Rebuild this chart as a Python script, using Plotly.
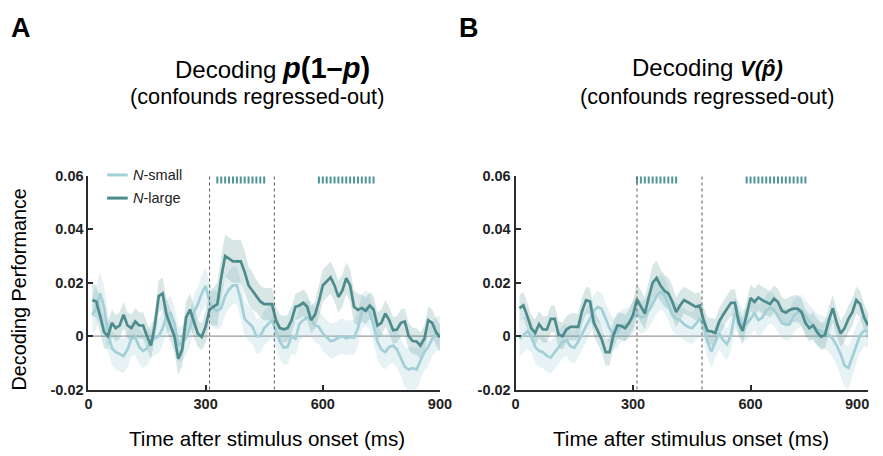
import plotly.graph_objects as go

W, H = 883, 456

# ---------------- data ----------------
time_ms = list(range(10, 901, 10))

a_large = [0.0135, 0.013, 0.0075, 0.0015, 0.000, 0.005, 0.003, 0.004, 0.008, 0.004,
           0.003, 0.0055, 0.004, 0.004, 0.000, -0.0035, 0.004, 0.015, 0.016, 0.008,
           0.004, 0.000, -0.0085, -0.005, 0.007, 0.010, 0.0055, 0.001, -0.0003, 0.0035,
           0.010, 0.011, 0.012, 0.022, 0.030, 0.029, 0.028, 0.028, 0.028, 0.024,
           0.019, 0.017, 0.015, 0.013, 0.012, 0.012, 0.012, 0.006, 0.003, 0.0026,
           0.003, 0.006, 0.011, 0.0115, 0.0125, 0.011, 0.006, 0.008, 0.013, 0.019,
           0.0205, 0.022, 0.019, 0.0147, 0.017, 0.0217, 0.019, 0.011, 0.0098, 0.0105,
           0.0095, 0.0115, 0.010, 0.004, 0.005, 0.0085, 0.006, 0.0022, 0.0025, 0.005,
           0.0055, 0.000, -0.0018, -0.002, -0.0035, -0.001, 0.006, 0.005, 0.0015, -0.0005]

a_small = [0.008, 0.0105, 0.016, 0.011, 0.0015, -0.0045, -0.006, -0.0067, -0.0074, -0.005,
           -0.001, -0.0005, -0.004, -0.0055, -0.0045, -0.0015, -0.0006, 0.0, 0.003, 0.0075,
           0.0086, 0.005, -0.003, -0.0028, -0.0005, 0.003, 0.009, 0.012, 0.016, 0.0188,
           0.013, 0.0103, 0.0095, 0.0105, 0.015, 0.0175, 0.019, 0.019, 0.0135, 0.0065,
           0.005, 0.0035, 0.000, 0.0, 0.003, 0.0045, 0.006, 0.002, -0.002, -0.0043,
           -0.004, 0.0, -0.001, 0.0045, 0.006, 0.007, 0.0065, 0.004, 0.0035, 0.001,
           -0.0005, -0.0018, -0.0015, -0.0005, 0.0, -0.0008, -0.0003, -0.0006, 0.003, 0.009,
           0.0105, 0.009, 0.004, -0.002, -0.005, -0.006, -0.004, -0.0035, -0.005, -0.008,
           -0.0115, -0.0125, -0.012, -0.0125, -0.009, -0.006, -0.004, -0.001, 0.001, 0.001]

b_large = [0.0105, 0.0115, 0.0075, 0.003, 0.0012, 0.0045, 0.0025, 0.0025, 0.0065, 0.0065,
           0.0006, 0.0, 0.0025, 0.0035, 0.0035, 0.0035, 0.0095, 0.0135, 0.013, 0.005,
           0.002, -0.0012, -0.006, -0.006, 0.0005, 0.004, 0.0038, 0.003, 0.005, 0.008,
           0.0138, 0.011, 0.0085, 0.0145, 0.020, 0.0218, 0.019, 0.017, 0.016, 0.013,
           0.009, 0.0115, 0.0135, 0.0127, 0.012, 0.011, 0.0115, 0.006, 0.002, 0.0018,
           0.0012, 0.0055, 0.008, 0.0105, 0.0125, 0.0125, 0.005, 0.002, 0.008, 0.0143,
           0.0128, 0.0145, 0.0135, 0.0128, 0.012, 0.014, 0.0128, 0.0095, 0.0088, 0.0098,
           0.0103, 0.0103, 0.009, 0.005, 0.003, 0.004, 0.0015, -0.0002, 0.0005, 0.006,
           0.0105, 0.005, 0.001, 0.003, 0.0065, 0.009, 0.0135, 0.012, 0.007, 0.004]

b_small = [-0.001, 0.0005, 0.0018, 0.0, -0.004, -0.0055, -0.006, -0.0074, -0.008, -0.006,
           -0.0043, -0.0022, -0.0015, -0.0037, -0.0043, -0.002, 0.001, 0.0035, 0.0065, 0.0095,
           0.011, 0.0102, 0.0065, 0.003, 0.0006, 0.0015, 0.004, 0.0043, 0.005, 0.007,
           0.0085, 0.007, 0.0075, 0.0095, 0.012, 0.015, 0.0165, 0.0155, 0.012, 0.008,
           0.0065, 0.006, 0.0045, 0.0035, 0.003, 0.0045, 0.0065, 0.004, -0.002, -0.0058,
           -0.002, 0.001, -0.0015, -0.003, 0.0005, 0.0085, 0.007, 0.004, 0.0045, 0.0065,
           0.0085, 0.006, 0.007, 0.0095, 0.0108, 0.0098, 0.0075, 0.005, 0.0043, 0.0045,
           0.0075, 0.009, 0.0095, 0.0075, 0.0055, 0.004, 0.0025, 0.0018, 0.0012, 0.0005,
           -0.001, -0.0035, -0.0067, -0.011, -0.0118, -0.0075, -0.003, 0.0005, 0.002, 0.002]

a_large_sem = [0.006, 0.006, 0.006, 0.006, 0.005, 0.005, 0.005, 0.005, 0.005, 0.005,
               0.005, 0.005, 0.005, 0.005, 0.005, 0.005, 0.005, 0.006, 0.006, 0.006,
               0.006, 0.006, 0.006, 0.006, 0.006, 0.006, 0.006, 0.005, 0.005, 0.006,
               0.006, 0.007, 0.008, 0.008, 0.008, 0.008, 0.008, 0.008, 0.008, 0.008,
               0.007, 0.007, 0.006, 0.006, 0.006, 0.006, 0.006, 0.005, 0.005, 0.005,
               0.005, 0.005, 0.005, 0.005, 0.005, 0.005, 0.005, 0.005, 0.006, 0.006,
               0.006, 0.006, 0.006, 0.006, 0.006, 0.006, 0.006, 0.006, 0.006, 0.005,
               0.005, 0.005, 0.005, 0.005, 0.005, 0.005, 0.005, 0.005, 0.005, 0.005,
               0.005, 0.005, 0.005, 0.005, 0.005, 0.005, 0.005, 0.005, 0.005, 0.005]

a_small_sem = [0.007, 0.008, 0.008, 0.008, 0.007, 0.0065, 0.0065, 0.0065, 0.0065, 0.0065,
               0.0065, 0.0065, 0.0065, 0.0065, 0.0065, 0.0065, 0.0065, 0.0065, 0.0065, 0.0065,
               0.0065, 0.0065, 0.0065, 0.0065, 0.0065, 0.0065, 0.0065, 0.0065, 0.007, 0.007,
               0.007, 0.007, 0.007, 0.007, 0.007, 0.007, 0.007, 0.007, 0.007, 0.0065,
               0.0065, 0.0065, 0.0065, 0.0065, 0.0065, 0.0065, 0.0065, 0.0065, 0.0065, 0.0065,
               0.0065, 0.0065, 0.0065, 0.0065, 0.0065, 0.0065, 0.0065, 0.0065, 0.0065, 0.0065,
               0.0065, 0.0065, 0.0065, 0.0065, 0.0065, 0.0065, 0.0065, 0.0065, 0.0065, 0.0065,
               0.0065, 0.0065, 0.0065, 0.0065, 0.0065, 0.0065, 0.0065, 0.0065, 0.007, 0.007,
               0.0075, 0.008, 0.008, 0.008, 0.0075, 0.007, 0.007, 0.0065, 0.0065, 0.0065]

b_large_sem = [0.005, 0.005, 0.005, 0.005, 0.005, 0.005, 0.005, 0.005, 0.005, 0.005,
               0.005, 0.005, 0.005, 0.005, 0.005, 0.005, 0.005, 0.005, 0.005, 0.005,
               0.005, 0.005, 0.005, 0.005, 0.005, 0.005, 0.005, 0.005, 0.005, 0.0055,
               0.006, 0.006, 0.006, 0.006, 0.0065, 0.0065, 0.006, 0.006, 0.006, 0.006,
               0.0055, 0.0055, 0.005, 0.005, 0.005, 0.005, 0.005, 0.005, 0.005, 0.005,
               0.005, 0.005, 0.005, 0.005, 0.005, 0.005, 0.005, 0.005, 0.005, 0.005,
               0.005, 0.005, 0.005, 0.005, 0.005, 0.005, 0.005, 0.005, 0.005, 0.005,
               0.005, 0.005, 0.005, 0.005, 0.005, 0.005, 0.005, 0.005, 0.005, 0.005,
               0.005, 0.005, 0.005, 0.005, 0.005, 0.005, 0.005, 0.005, 0.005, 0.005]

b_small_sem = [0.0065, 0.0065, 0.0065, 0.006, 0.006, 0.006, 0.006, 0.006, 0.006, 0.006,
               0.006, 0.006, 0.006, 0.006, 0.006, 0.006, 0.006, 0.006, 0.006, 0.006,
               0.006, 0.006, 0.006, 0.006, 0.006, 0.006, 0.006, 0.006, 0.006, 0.006,
               0.006, 0.006, 0.006, 0.0065, 0.0065, 0.0065, 0.0065, 0.0065, 0.006, 0.006,
               0.006, 0.006, 0.006, 0.006, 0.006, 0.006, 0.006, 0.006, 0.006, 0.006,
               0.006, 0.006, 0.006, 0.006, 0.006, 0.006, 0.006, 0.006, 0.006, 0.006,
               0.006, 0.006, 0.006, 0.006, 0.006, 0.006, 0.006, 0.006, 0.006, 0.006,
               0.006, 0.006, 0.006, 0.006, 0.006, 0.006, 0.006, 0.006, 0.006, 0.0065,
               0.007, 0.0075, 0.008, 0.008, 0.008, 0.0075, 0.007, 0.0065, 0.006, 0.006]

sig_a = [330, 340, 350, 360, 370, 380, 390, 400, 410, 420, 430, 440, 450,
         590, 600, 610, 620, 630, 640, 650, 660, 670, 680, 690, 700, 710, 720, 730]
sig_b = [310, 320, 330, 340, 350, 360, 370, 380, 390, 400, 410,
         590, 600, 610, 620, 630, 640, 650, 660, 670, 680, 690, 700, 710, 720, 730, 740]
sig_level = 0.0585

event_ms = [310, 476]

x_ticks = [0, 300, 600, 900]
x_tick_text = ["0", "300", "600", "900"]
y_ticks = [-0.02, 0, 0.02, 0.04, 0.06]
y_tick_text = ["-0.02", "0", "0.02", "0.04", "0.06"]
legend_labels = ["<i>N</i>-small", "<i>N</i>-large"]

# ---------------- style ----------------
DARK = "#4d8b8d"
LIGHT = "#a2cfd8"
DARK_BAND = "rgba(77,139,141,0.22)"
LIGHT_BAND = "rgba(162,207,216,0.27)"
SIG = "#4f9598"
AXIS = "#2b2b2b"
FONT = "Liberation Sans, Arial, Helvetica, sans-serif"
TICK_FONT = dict(family=FONT, size=14.5, color="#222")


def px(x):  # figure pixel x -> paper fraction
    return x / W


def py(y):  # figure pixel y -> paper fraction
    return 1 - y / H


fig = go.Figure()


def add_panel(xa, ya, large, small, large_sem, small_sem, sig):
    xr = time_ms + time_ms[::-1]
    for vals, sem, band in ((small, small_sem, LIGHT_BAND), (large, large_sem, DARK_BAND)):
        up = [v + s for v, s in zip(vals, sem)]
        lo = [v - s for v, s in zip(vals, sem)]
        fig.add_trace(go.Scatter(x=xr, y=up + lo[::-1], fill="toself", fillcolor=band,
                                 line=dict(width=0), mode="lines", hoverinfo="skip",
                                 showlegend=False, xaxis=xa, yaxis=ya))
    fig.add_trace(go.Scatter(x=time_ms, y=small, mode="lines", name=legend_labels[0],
                             line=dict(color=LIGHT, width=2.7), showlegend=False,
                             xaxis=xa, yaxis=ya))
    fig.add_trace(go.Scatter(x=time_ms, y=large, mode="lines", name=legend_labels[1],
                             line=dict(color=DARK, width=2.7), showlegend=False,
                             xaxis=xa, yaxis=ya))
    fig.add_trace(go.Scatter(x=sig, y=[sig_level] * len(sig), mode="markers",
                             marker=dict(symbol="line-ns", size=5,
                                         line=dict(color=SIG, width=2)),
                             showlegend=False, hoverinfo="skip", xaxis=xa, yaxis=ya))


add_panel("x", "y", a_large, a_small, a_large_sem, a_small_sem, sig_a)
add_panel("x2", "y2", b_large, b_small, b_large_sem, b_small_sem, sig_b)

shapes = []
for xr_, yr_ in (("x", "y"), ("x2", "y2")):
    shapes.append(dict(type="line", xref=xr_, yref=yr_, x0=0, x1=900, y0=0, y1=0,
                       line=dict(color="#9a9a9a", width=1.2), layer="below"))
    for e in event_ms:
        shapes.append(dict(type="line", xref=xr_, yref=yr_, x0=e, x1=e, y0=-0.02, y1=0.06,
                           line=dict(color="#666666", width=1.1, dash="dot")))

# manual legend (short line samples as in the reference)
ann = []
for i, (lab, col) in enumerate(zip(legend_labels, (LIGHT, DARK))):
    yy = py(173 + 24 * i)
    shapes.append(dict(type="line", xref="paper", yref="paper", x0=px(105), x1=px(126),
                       y0=yy, y1=yy, line=dict(color=col, width=3)))
    ann.append(dict(text=lab, x=px(129), y=yy, xref="paper", yref="paper",
                    xanchor="left", yanchor="middle", showarrow=False,
                    font=dict(family=FONT, size=14.5, color="#222")))

axis_common = dict(showline=True, linecolor=AXIS, linewidth=2, ticks="inside",
                   ticklen=5, tickwidth=1.5, tickcolor=AXIS, showgrid=False, zeroline=False,
                   tickfont=TICK_FONT)

xt = ["<b>%s</b>" % t for t in x_tick_text]
# the last tick label of panel B sits at the page edge; it is drawn as a
# right-aligned annotation so that it is not cut off
xt_b = xt[:-1] + [""]
yt = ["<b>%s</b>" % t for t in y_tick_text]
ydom = [py(395.5), py(174)]
fig.update_layout(
    width=W, height=H, margin=dict(l=0, r=0, t=0, b=0),
    plot_bgcolor="white", paper_bgcolor="white",
    shapes=shapes, showlegend=False,
    xaxis=dict(domain=[px(86), px(444)], range=[0, 900], tickvals=x_ticks, ticktext=xt,
               anchor="y", **axis_common),
    yaxis=dict(domain=ydom, range=[-0.02, 0.06], tickvals=y_ticks,
               ticktext=yt, anchor="x", **axis_common),
    xaxis2=dict(domain=[px(521), px(880)], range=[0, 900], tickvals=x_ticks, ticktext=xt_b,
                anchor="y2", **axis_common),
    yaxis2=dict(domain=ydom, range=[-0.02, 0.06], tickvals=y_ticks,
                ticktext=yt, anchor="x2", **axis_common),
    font=dict(family=FONT),
)

ann.append(dict(text=xt[-1], x=1, y=py(410), xref="paper", yref="paper",
                xanchor="right", yanchor="middle", showarrow=False, font=TICK_FONT))
ann.append(dict(text="<b>A</b>", x=px(5), y=py(21), xref="paper", yref="paper",
                xanchor="left", yanchor="middle", showarrow=False,
                font=dict(family=FONT, size=27, color="black")))
ann.append(dict(text="<b>B</b>", x=px(461), y=py(21), xref="paper", yref="paper",
                xanchor="left", yanchor="middle", showarrow=False,
                font=dict(family=FONT, size=27, color="black")))
ann.append(dict(text="Decoding <b><span style='font-size:29px'><i>p</i>(1–<i>p</i>)</span></b>",
                x=px(273), y=py(62), xref="paper", yref="paper", xanchor="center",
                yanchor="middle", showarrow=False,
                font=dict(family=FONT, size=24, color="black")))
ann.append(dict(text="(confounds regressed-out)", x=px(258), y=py(92),
                xref="paper", yref="paper", xanchor="center", yanchor="middle",
                showarrow=False, font=dict(family=FONT, size=21.7, color="black")))
ann.append(dict(text="Decoding <b><i><span style='font-size:22px'>V(p̂)</span></i></b>",
                x=px(716), y=py(62), xref="paper", yref="paper", xanchor="center",
                yanchor="middle", showarrow=False,
                font=dict(family=FONT, size=24, color="black")))
ann.append(dict(text="(confounds regressed-out)", x=px(716), y=py(92),
                xref="paper", yref="paper", xanchor="center", yanchor="middle",
                showarrow=False, font=dict(family=FONT, size=21.7, color="black")))
for cx in (268, 700):
    ann.append(dict(text="Time after stimulus onset (ms)", x=px(cx), y=py(446),
                    xref="paper", yref="paper", xanchor="center", yanchor="middle",
                    showarrow=False, font=dict(family=FONT, size=20.6, color="black")))
ann.append(dict(text="Decoding Performance", x=px(15), y=py(292), xref="paper",
                yref="paper", xanchor="center", yanchor="middle", textangle=-90,
                showarrow=False, font=dict(family=FONT, size=19.8, color="black")))
fig.update_layout(annotations=ann)

fig.write_html("out.html", config={"displayModeBar": False},
               post_script="document.body.style.margin='0px';document.body.style.overflow='hidden';")
